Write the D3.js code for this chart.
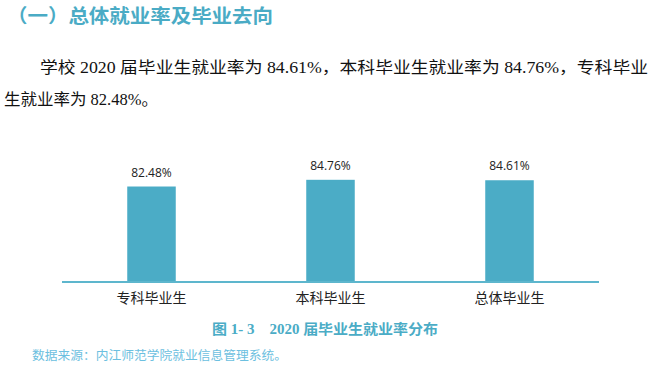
<!DOCTYPE html>
<html><head><meta charset="utf-8">
<script src="https://cdn.jsdelivr.net/npm/d3@7"></script>
<style>html,body{margin:0;padding:0;background:#fff;}svg{display:block;}</style>
</head><body>
<script>
const categories = ["专科毕业生", "本科毕业生", "总体毕业生"];
const values = [82.48, 84.76, 84.61];
const valueLabels = ["82.48%", "84.76%", "84.61%"];
const titleText = "（一）总体就业率及毕业去向";
const paraLine1 = "学校 2020 届毕业生就业率为 84.61%，本科毕业生就业率为 84.76%，专科毕业";
const paraLine2 = "生就业率为 82.48%。";
const captionText = "图 1- 3\u00a0\u00a0\u00a0\u00a02020 届毕业生就业率分布";
const sourceText = "数据来源：内江师范学院就业信息管理系统。";

const W = 653, H = 374;
const svg = d3.select("body").append("svg").attr("width", W).attr("height", H);
const teal = "#4BACC6";
const cjk = "'Noto Sans CJK SC', sans-serif";
const serif = "'Liberation Serif', 'Noto Sans CJK SC', serif";

svg.append("text").attr("x", 7).attr("y", 22.5)
  .attr("font-family", cjk).attr("font-weight", "bold").attr("font-size", 19)
  .attr("fill", "#4AABC5").attr("textLength", 266).attr("lengthAdjust", "spacingAndGlyphs")
  .text(titleText);

svg.append("text").attr("x", 40).attr("y", 73)
  .attr("font-family", serif).attr("font-size", 16).attr("fill", "#111")
  .attr("textLength", 608).attr("lengthAdjust", "spacingAndGlyphs")
  .text(paraLine1);
svg.append("text").attr("x", 4).attr("y", 105)
  .attr("font-family", serif).attr("font-size", 16).attr("fill", "#111")
  .attr("textLength", 154).attr("lengthAdjust", "spacingAndGlyphs")
  .text(paraLine2);

const x = d3.scaleBand().domain(categories).range([62, 599])
  .paddingInner(0.729).paddingOuter(0.3645);
const y = d3.scaleLinear().domain([50, 100]).range([282, 135]);

svg.selectAll("rect.bar").data(values).join("rect").attr("class", "bar")
  .attr("x", (d, i) => x(categories[i]))
  .attr("width", x.bandwidth())
  .attr("y", d => y(d))
  .attr("height", d => y(50) - y(d))
  .attr("fill", teal);

svg.selectAll("text.vl").data(values).join("text").attr("class", "vl")
  .attr("x", (d, i) => x(categories[i]) + x.bandwidth() / 2)
  .attr("y", d => y(d) - 10)
  .attr("text-anchor", "middle")
  .attr("font-family", "'Open Sans', 'Liberation Sans', sans-serif").attr("font-size", 12)
  .attr("fill", "#222")
  .text((d, i) => valueLabels[i]);

const xAxis = svg.append("g").attr("transform", "translate(0,282)")
  .call(d3.axisBottom(x).tickSize(0).tickPadding(11));
xAxis.select(".domain").attr("stroke", "#5DB6CD").attr("stroke-width", 2).attr("d", "M62,0H599");
xAxis.selectAll("text").attr("font-family", cjk).attr("font-size", 14).attr("fill", "#222");

svg.append("text").attr("x", 325).attr("y", 334).attr("text-anchor", "middle")
  .attr("font-family", serif).attr("font-weight", "bold").attr("font-size", 14)
  .attr("fill", teal).attr("textLength", 226).attr("lengthAdjust", "spacingAndGlyphs")
  .text(captionText);

svg.append("text").attr("x", 32).attr("y", 360)
  .attr("font-family", serif).attr("font-size", 12.5)
  .attr("fill", "#6CC0E0").attr("textLength", 255).attr("lengthAdjust", "spacingAndGlyphs")
  .text(sourceText);
</script>
</body></html>
